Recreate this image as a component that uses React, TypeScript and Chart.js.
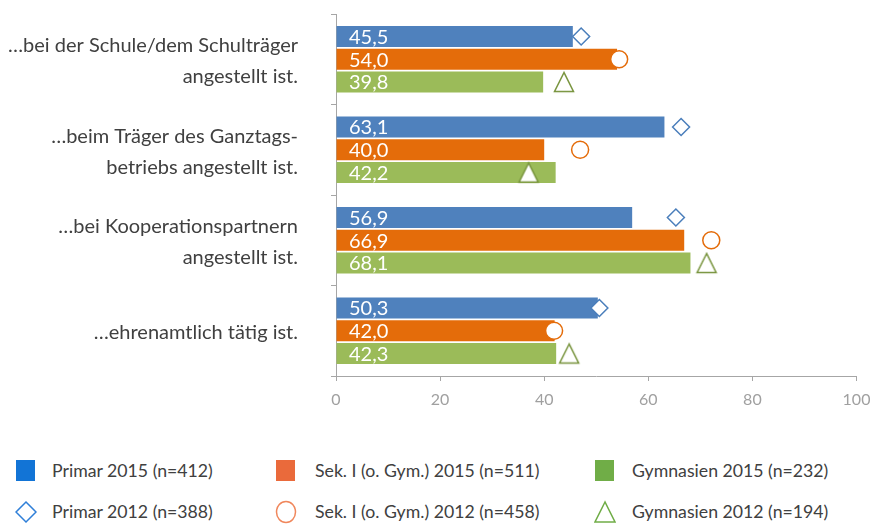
import React, { useEffect, useRef } from 'react';
import { Chart, registerables } from 'chart.js';

Chart.register(...registerables);

const categories: string[][] = [
  ['…bei der Schule/dem Schulträger', 'angestellt ist.'],
  ['…beim Träger des Ganztags-', 'betriebs angestellt ist.'],
  ['…bei Kooperationspartnern', 'angestellt ist.'],
  ['…ehrenamtlich tätig ist.'],
];

const primar2015 = [45.5, 63.1, 56.9, 50.3];
const sek2015 = [54.0, 40.0, 66.9, 42.0];
const gym2015 = [39.8, 42.2, 68.1, 42.3];

const primar2012 = [47.1, 66.3, 65.3, 50.6];
const sek2012 = [54.4, 46.9, 72.1, 41.9];
const gym2012 = [43.8, 37.0, 71.2, 44.8];

const names2015 = ['Primar 2015 (n=412)', 'Sek. I (o. Gym.) 2015 (n=511)', 'Gymnasien 2015 (n=232)'];
const names2012 = ['Primar 2012 (n=388)', 'Sek. I (o. Gym.) 2012 (n=458)', 'Gymnasien 2012 (n=194)'];

const xMin = 0;
const xMax = 100;
const xStep = 20;

const FONT = 'Lato, "Open Sans", sans-serif';
const barColors = ['#4f81bd', '#e46c0a', '#9bbb59'];
const markerColors = ['#4a7ebb', '#e46c0a', '#77933c'];
const legendSquare = ['#1274d6', '#ea6a3b', '#70ad47'];
const legendMarker = ['#2f7fd8', '#f0875c', '#70ad47'];

function makeTriangle(color: string): HTMLCanvasElement {
  const c = document.createElement('canvas');
  c.width = 24;
  c.height = 24;
  const ctx = c.getContext('2d')!;
  ctx.beginPath();
  ctx.moveTo(12, 2.5);
  ctx.lineTo(2.5, 21.5);
  ctx.lineTo(21.5, 21.5);
  ctx.closePath();
  ctx.fillStyle = '#ffffff';
  ctx.fill();
  ctx.strokeStyle = color;
  ctx.lineWidth = 1.5;
  ctx.stroke();
  return c;
}

const alignMarkers = {
  id: 'alignMarkers',
  afterDatasetsUpdate(chart: any) {
    chart.data.datasets.forEach((ds: any, i: number) => {
      if (ds.type !== 'line') return;
      const barMeta = chart.getDatasetMeta(ds.pairIndex);
      const meta = chart.getDatasetMeta(i);
      meta.data.forEach((pt: any, j: number) => {
        const bar = barMeta.data[j];
        if (bar) pt.y = bar.y;
      });
    });
  },
};

const valueLabels = {
  id: 'valueLabels',
  afterDatasetsDraw(chart: any) {
    const ctx = chart.ctx;
    const x0 = chart.scales.x.getPixelForValue(0);
    ctx.save();
    ctx.fillStyle = '#ffffff';
    ctx.font = '20px ' + FONT;
    ctx.textAlign = 'left';
    ctx.textBaseline = 'middle';
    chart.data.datasets.forEach((ds: any, i: number) => {
      if (ds.type !== 'bar') return;
      const meta = chart.getDatasetMeta(i);
      meta.data.forEach((el: any, j: number) => {
        const v = ds.data[j] as number;
        ctx.fillText(v.toFixed(1).replace('.', ','), x0 + 13, el.y + 1);
      });
    });
    ctx.restore();
  },
};

function LegendIcon({ kind, idx }: { kind: string; idx: number }) {
  if (kind === 'square') {
    return (
      <svg width="22" height="24" style={{ display: 'block' }}>
        <rect x="1" y="1" width="19" height="21" fill={legendSquare[idx]} />
      </svg>
    );
  }
  const c = legendMarker[idx];
  if (idx === 0) {
    return (
      <svg width="22" height="24" style={{ display: 'block' }}>
        <polygon points="11,2 21,12 11,22 1,12" fill="#fff" stroke={c} strokeWidth="1.5" />
      </svg>
    );
  }
  if (idx === 1) {
    return (
      <svg width="22" height="24" style={{ display: 'block' }}>
        <ellipse cx="11" cy="12" rx="9.5" ry="10.5" fill="#fff" stroke={c} strokeWidth="1.5" />
      </svg>
    );
  }
  return (
    <svg width="22" height="24" style={{ display: 'block' }}>
      <polygon points="11,2 1,22 21,22" fill="#fff" stroke={c} strokeWidth="1.5" />
    </svg>
  );
}

export default function App() {
  const ref = useRef<HTMLCanvasElement>(null);

  useEffect(() => {
    const canvas = ref.current;
    if (!canvas) return;
    const pointStyles: any[] = ['rectRot', 'circle', makeTriangle(markerColors[2])];
    const data2015 = [primar2015, sek2015, gym2015];
    const data2012 = [primar2012, sek2012, gym2012];

    const lineSets = data2012.map((d, i) => ({
      type: 'line' as const,
      label: names2012[i],
      data: d,
      pairIndex: i + 3,
      showLine: false,
      order: 0,
      pointStyle: pointStyles[i],
      pointRadius: i === 2 ? 12 : 8.5,
      pointHoverRadius: i === 2 ? 12 : 8.5,
      pointBorderWidth: 1.5,
      pointBorderColor: markerColors[i],
      pointBackgroundColor: '#ffffff',
      borderColor: markerColors[i],
      backgroundColor: '#ffffff',
    }));

    const barSets = data2015.map((d, i) => ({
      type: 'bar' as const,
      label: names2015[i],
      data: d,
      order: 1,
      backgroundColor: barColors[i],
      borderWidth: 0,
      categoryPercentage: 0.755,
      barPercentage: 0.93,
    }));

    const chart = new Chart(canvas, {
      type: 'bar',
      data: {
        labels: categories,
        datasets: [...lineSets, ...barSets] as any,
      },
      options: {
        indexAxis: 'y',
        responsive: false,
        animation: false,
        layout: { padding: { top: 14, left: 0, bottom: 0, right: 0 } },
        plugins: {
          legend: { display: false },
          tooltip: { enabled: false },
        },
        scales: {
          x: {
            type: 'linear',
            min: xMin,
            max: xMax,
            ticks: {
              stepSize: xStep,
              color: '#a0a0a0',
              font: { family: FONT, size: 16 },
              padding: 9,
            },
            grid: {
              drawOnChartArea: false,
              drawTicks: true,
              tickLength: 5,
              color: '#a6a6a6',
            },
            border: { color: '#a6a6a6' },
            afterFit: (s: any) => {
              s.height = 36;
              s.paddingLeft = 0;
              s.paddingRight = 13;
            },
          },
          y: {
            type: 'category',
            offset: true,
            ticks: {
              color: '#404040',
              font: { family: FONT, size: 20, lineHeight: 1.55 },
              padding: 33,
              crossAlign: 'near',
              labelOffset: 2,
            },
            grid: {
              offset: true,
              drawOnChartArea: false,
              drawTicks: true,
              tickLength: 5,
              color: '#a6a6a6',
            },
            border: { color: '#a6a6a6' },
            afterFit: (s: any) => {
              s.width = 336;
              s.paddingTop = 0;
              s.paddingBottom = 0;
            },
          },
        },
      } as any,
      plugins: [alignMarkers, valueLabels],
    });
    return () => chart.destroy();
  }, []);

  const cols = [
    { icon: 16, text: 52 },
    { icon: 276, text: 315 },
    { icon: 595, text: 632 },
  ];
  const rows = [
    { top: 459, names: names2015, kind: 'square' },
    { top: 500, names: names2012, kind: 'marker' },
  ];

  return (
    <div
      style={{
        position: 'absolute',
        left: 0,
        top: 0,
        width: 870,
        height: 525,
        background: '#ffffff',
        overflow: 'hidden',
        fontFamily: FONT,
      }}
    >
      <canvas ref={ref} width={870} height={412} style={{ position: 'absolute', left: 0, top: 0 }} />
      {rows.map((r, ri) =>
        cols.map((c, ci) => (
          <React.Fragment key={ri + '-' + ci}>
            <div style={{ position: 'absolute', left: c.icon - 1, top: r.top }}>
              <LegendIcon kind={r.kind} idx={ci} />
            </div>
            <div
              style={{
                position: 'absolute',
                left: c.text,
                top: r.top,
                height: 24,
                lineHeight: '24px',
                fontSize: 17.7,
                color: '#404040',
                whiteSpace: 'nowrap',
              }}
            >
              {r.names[ci]}
            </div>
          </React.Fragment>
        ))
      )}
    </div>
  );
}
